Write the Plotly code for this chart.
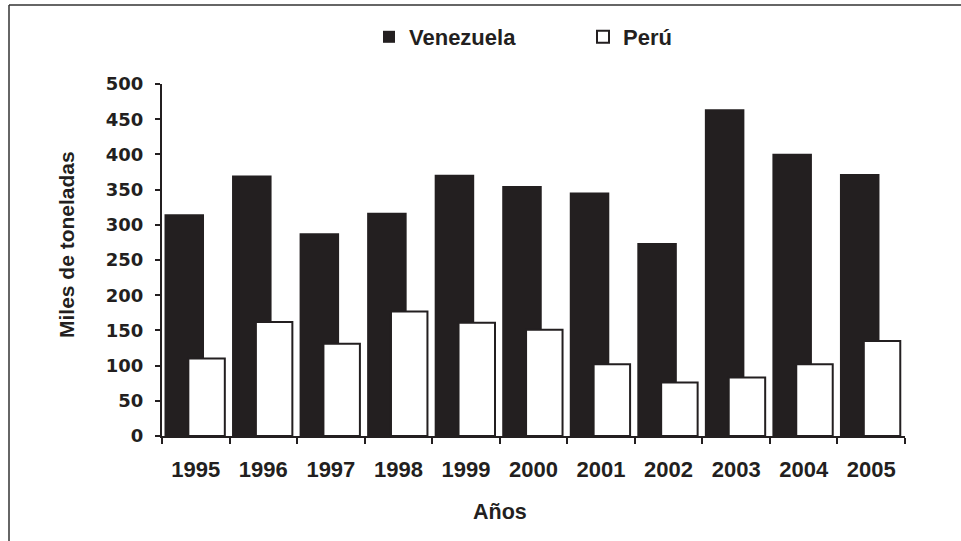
import plotly.graph_objects as go

# Production, thousands of tonnes
years = ["1995", "1996", "1997", "1998", "1999", "2000",
         "2001", "2002", "2003", "2004", "2005"]
venezuela = [315, 370, 288, 317, 371, 355, 346, 274, 464, 401, 372]
peru = [110, 162, 131, 177, 161, 151, 102, 76, 83, 102, 135]

INK = "#231f20"
W, H = 961, 541
ML, MR, MT, MB = 162, 56, 84, 105
PW, PH = W - ML - MR, H - MT - MB


def px_x(x):
    return (x - ML) / PW


def px_y(y):
    return (H - MB - y) / PH


fig = go.Figure()
fig.add_trace(go.Bar(
    x=years, y=venezuela, name="Venezuela",
    offset=-0.463, width=0.585,
    marker=dict(color=INK, line=dict(width=0)),
))
fig.add_trace(go.Bar(
    x=years, y=peru, name="Perú",
    offset=-0.11, width=0.54,
    marker=dict(color="white", line=dict(color=INK, width=2)),
))

fig.update_layout(
    width=W, height=H,
    margin=dict(l=ML, r=MR, t=MT, b=MB),
    paper_bgcolor="white", plot_bgcolor="white",
    barmode="overlay",
    font=dict(family="Liberation Sans", color=INK, size=22, weight="bold"),
    showlegend=True,
    legend=dict(
        orientation="h", x=px_x(369), xanchor="left",
        y=px_y(37), yanchor="middle",
        entrywidth=169, traceorder="normal",
        font=dict(family="Liberation Sans", size=22, color=INK, weight="bold"),
        bgcolor="rgba(0,0,0,0)",
    ),
    xaxis=dict(
        type="category", range=[-0.5, 10.5],
        showline=True, linecolor=INK, linewidth=2,
        ticks="outside", tickson="boundaries", ticklen=6, tickwidth=1.5,
        tickcolor=INK, showgrid=False, zeroline=False,
        ticklabelstandoff=13,
        tickfont=dict(family="Liberation Sans", size=22, color=INK, weight="bold"),
    ),
    yaxis=dict(
        range=[0, 500], dtick=50, tick0=0,
        showline=True, linecolor=INK, linewidth=2,
        ticks="outside", ticklen=5, tickwidth=1.5, tickcolor=INK,
        showgrid=False, zeroline=False,
        ticklabelstandoff=8,
        tickfont=dict(family="DejaVu Sans", size=18, color=INK, weight="bold"),
    ),
    annotations=[
        dict(text="Años", xref="paper", yref="paper",
             x=px_x(499.5), y=px_y(512), xanchor="center", yanchor="middle",
             showarrow=False,
             font=dict(family="Liberation Sans", size=21.5, color=INK, weight="bold")),
        dict(text="Miles de toneladas", xref="paper", yref="paper",
             x=px_x(66), y=px_y(245), xanchor="center", yanchor="middle",
             textangle=-90, showarrow=False,
             font=dict(family="Liberation Sans", size=21, color=INK, weight="bold")),
    ],
    shapes=[
        dict(type="line", xref="paper", yref="paper",
             x0=px_x(9), x1=px_x(W + 5), y0=px_y(5), y1=px_y(5),
             line=dict(color="#333333", width=1.5)),
        dict(type="line", xref="paper", yref="paper",
             x0=px_x(9), x1=px_x(9), y0=px_y(5), y1=px_y(H + 5),
             line=dict(color="#333333", width=1.5)),
    ],
)

fig.write_html("out.html")
